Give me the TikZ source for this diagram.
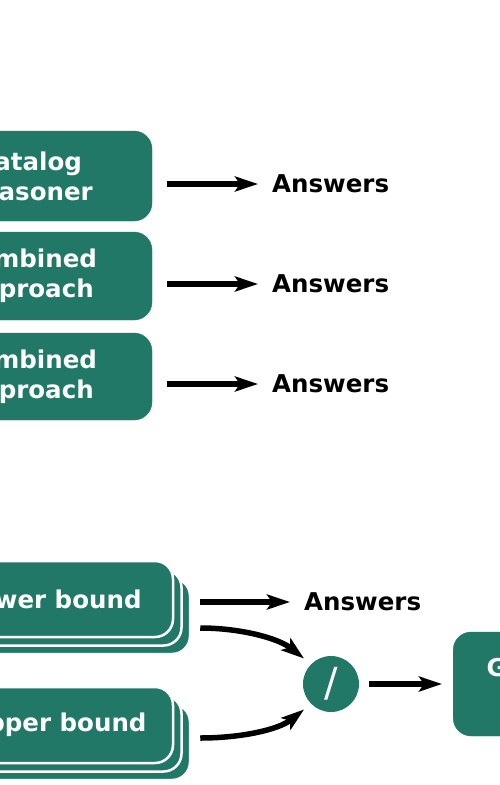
\documentclass[tikz,border=0pt]{standalone}
\usepackage{fontspec}
\setmainfont{DejaVu Sans}
\usetikzlibrary{arrows.meta}
\definecolor{teal}{HTML}{217867}
\tikzset{
  box/.style={rectangle, rounded corners=18pt, fill=teal, draw=teal, text=white,
    font=\fontsize{24.5}{30}\selectfont\bfseries, align=center, inner sep=0pt},
  stackbox/.style={box, draw=white, line width=2.5pt},
  shadowbox/.style={fill=teal, draw=white, line width=2.5pt, rounded corners=18pt},
  ans/.style={font=\fontsize{24.5}{30}\selectfont\bfseries, inner sep=0pt, anchor=west},
  arr/.style={line width=5.5pt, -{Stealth[length=23pt, width=15pt, inset=5pt]}},
  opnode/.style={circle, fill=teal, minimum size=56pt, inner sep=0pt, text=white,
    font=\fontsize{40}{40}\selectfont}
}
\begin{document}
\begin{tikzpicture}[x=1pt,y=-1pt]
\useasboundingbox (0,0) rectangle (500,785);
% top boxes
\node[box, minimum width=248pt, minimum height=90pt] (b1) at (28,176) {Datalog\\Reasoner};
\node[box, minimum width=248pt, minimum height=88pt] (b2) at (28,276) {Combined\\Approach};
\node[box, minimum width=248pt, minimum height=87pt] (b3) at (28,376.5) {Combined\\Approach};
\node[ans] (a1) at (272,184) {Answers};
\node[ans] (a2) at (272,284) {Answers};
\node[ans] (a3) at (272,384) {Answers};
\coordinate (s1) at ([xshift=15pt]b1.east);
\coordinate (s2) at ([xshift=15pt]b2.east);
\coordinate (s3) at ([xshift=15pt]b3.east);
\draw[arr, shorten >=14pt] (s1 |- a1.west) -- (a1.west);
\draw[arr, shorten >=14pt] (s2 |- a2.west) -- (a2.west);
\draw[arr, shorten >=14pt] (s3 |- a3.west) -- (a3.west);
% stacked boxes
\path[shadowbox] (-52,578) rectangle (190,654);
\path[shadowbox] (-60.5,569.5) rectangle (181.5,645.5);
\node[stackbox, minimum width=242pt, minimum height=76pt] (lb) at (52,599) {Lower bound};
\path[shadowbox] (-42,704) rectangle (190,780);
\path[shadowbox] (-50.5,695.5) rectangle (181.5,771.5);
\node[stackbox, minimum width=232pt, minimum height=76pt] (ub) at (57,725) {Upper bound};
\node[ans] (a4) at (304,602) {Answers};
\node[opnode] (c) at (331,684) {/};
\node[box, minimum width=140pt, minimum height=104pt, anchor=west] (g) at (453,684) {};
\node[anchor=base west, inner sep=0pt, text=white, font=\fontsize{24.5}{30}\selectfont\bfseries] (gt) at (486.5,676) {G};
\coordinate (s4) at ([xshift=26pt]lb.east);
\draw[arr, shorten >=14pt] (s4 |- a4.west) -- (a4.west);
\draw[arr, shorten >=9pt] ([shift={(26,29)}]lb.east) .. controls (240,628) and (278,638) .. (c.north west);
\draw[arr, shorten >=9pt] ([shift={(26,13)}]ub.east) .. controls (240,738) and (278,730) .. (c.south west);
\draw[arr, shorten >=11pt] ([xshift=10pt]c.east) -- (g.west);
\end{tikzpicture}
\end{document}
